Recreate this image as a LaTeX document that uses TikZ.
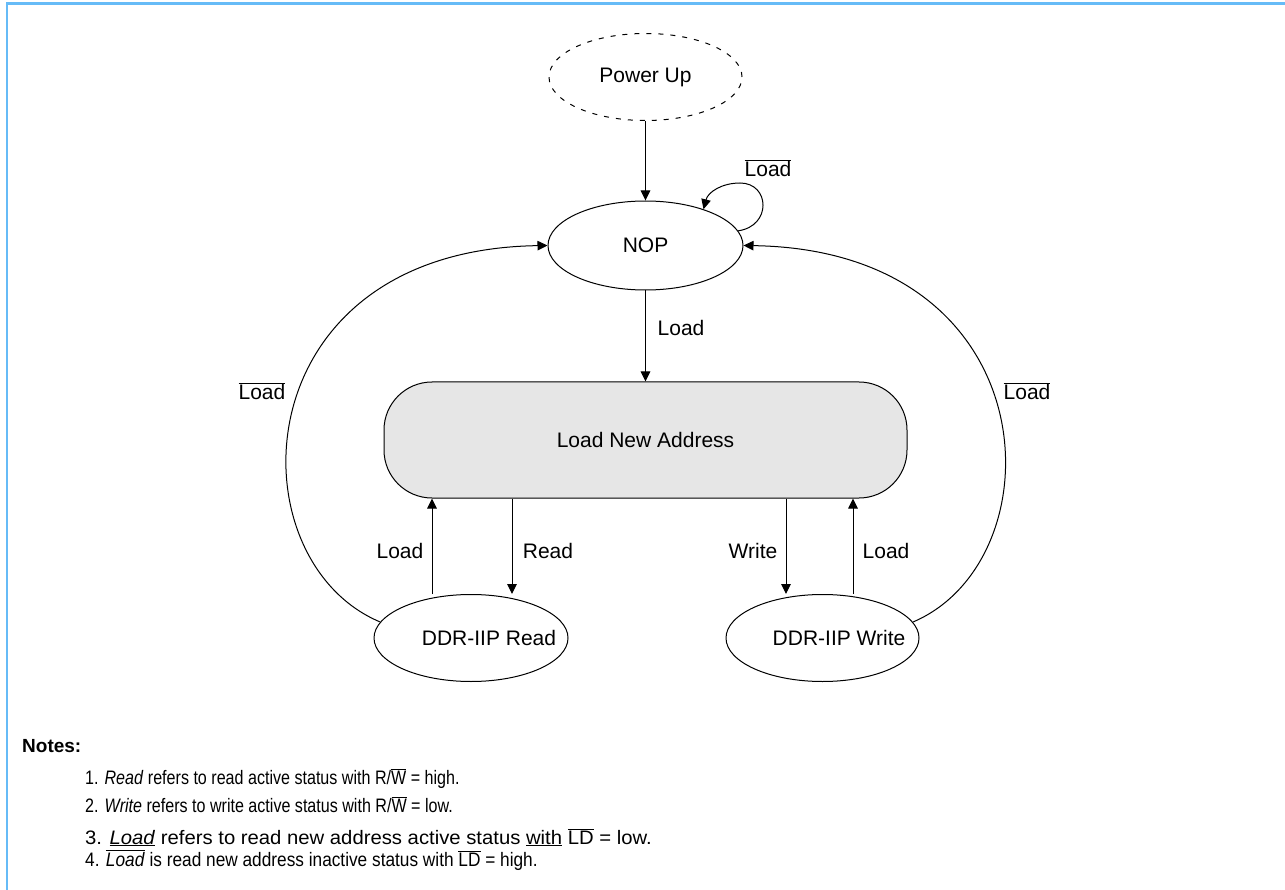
\documentclass[tikz,border=0pt]{standalone}
\usepackage{fontspec}
\setmainfont{Liberation Sans}
\newfontfamily\nf[FakeStretch=0.825]{Liberation Sans}
\newfontfamily\nfw[FakeStretch=1.04]{Liberation Sans}
\newfontfamily\nfm[FakeStretch=0.885]{Liberation Sans}
\usetikzlibrary{shapes.geometric,arrows.meta}
\newcommand\ovl[1]{$\overline{\hbox{#1}}$}
\definecolor{bord}{HTML}{66BBF7}
\definecolor{boxgray}{HTML}{E6E6E6}
\begin{document}
\begin{tikzpicture}[x=1pt,y=-1pt,
  every node/.style={font=\fontsize{21}{25}\selectfont},
  st/.style={draw,ellipse,line width=1pt,inner sep=0,minimum width=195,minimum height=87},
  arr/.style={line width=1pt,-{Triangle[length=10pt,width=9.5pt]}},
  lbl/.style={inner sep=0,anchor=base},
  note/.style={anchor=base west,inner sep=0,font=\nf\fontsize{19.5}{23}\selectfont}]
\useasboundingbox (0,0) rectangle (1285,890);
\fill[white] (0,0) rectangle (1285,890);
\draw[bord,line width=2.5pt] (7,890) -- (7,3.5) -- (1285,3.5);

% states
\node[st,dashed,dash pattern=on 5pt off 7pt,minimum width=193] (pu) at (645.5,77) {Power Up};
\node[st,minimum height=89] (nop) at (645.5,245.5) {NOP};
\node[draw,fill=boxgray,line width=1pt,rounded corners=48pt,minimum width=523,minimum height=116,inner sep=0] (lna) at (645.5,440) {Load New Address};
\node[st,minimum width=194] (rd) at (471,638) {};
\node[inner sep=0] (rdt) at (489,638) {DDR-IIP Read};
\node[st,minimum width=193] (wr) at (822.5,638) {};
\node[inner sep=0] (wrt) at (839,638) {DDR-IIP Write};

\coordinate (x1) at (432,0);
\coordinate (x2) at (512,0);
\coordinate (x3) at (786,0);
\coordinate (x4) at (853,0);

% connectors
\draw[arr] (pu.south) -- (nop.north);
\draw[arr] (nop.south) -- (lna.north);
\draw[arr] (lna.south -| x2) -- (rd.north -| x2);
\draw[arr] (rd.north -| x1) -- (lna.south -| x1);
\draw[arr] (lna.south -| x3) -- (wr.north -| x3);
\draw[arr] (wr.north -| x4) -- (lna.south -| x4);
\draw[arr] (rd.170) .. controls (232,560) and (240,250) .. (nop.west);
\draw[arr] (wr.10) .. controls (1059,560) and (1051,250) .. (nop.east);
\draw[arr] (nop.9) .. controls (772,226) and (770,183) .. (740,183) .. controls (722,183) and (708,192) .. (nop.32);

% labels
\node[lbl] (lself) at (768,176.5) {\ovl{Load}};
\node[lbl] (lload) at (681,335.5) {Load};
\node[lbl] (lleft) at (262,399.5) {\ovl{Load}};
\node[lbl] (lright) at (1027,399.5) {\ovl{Load}};
\node[lbl] (lrl) at (400,558.5) {Load};
\node[lbl] (lrr) at (548,558.5) {Read};
\node[lbl] (lww) at (753,558.5) {Write};
\node[lbl] (lwl) at (886,558.5) {Load};

% notes
\node[anchor=base west,inner sep=0,font=\bfseries\fontsize{19}{23}\selectfont] (notes) at (22,752) {Notes:};
\node[note] (n1) at (85,784) {1. \textit{Read} refers to read active status with R/\ovl{W} = high.};
\node[note] (n2) at (85,812) {2. \textit{Write} refers to write active status with R/\ovl{W} = low.};
\node[note,font=\nfw\fontsize{19.5}{23}\selectfont] (n3) at (85,844) {3. \underline{\textit{Load}} refers to read new address active status \underline{with} \ovl{LD} = low.};
\node[note,font=\nfm\fontsize{19.5}{23}\selectfont] (n4) at (85,866) {4. \ovl{\textit{Load}} is read new address inactive status with \ovl{LD} = high.};
\end{tikzpicture}
\end{document}
